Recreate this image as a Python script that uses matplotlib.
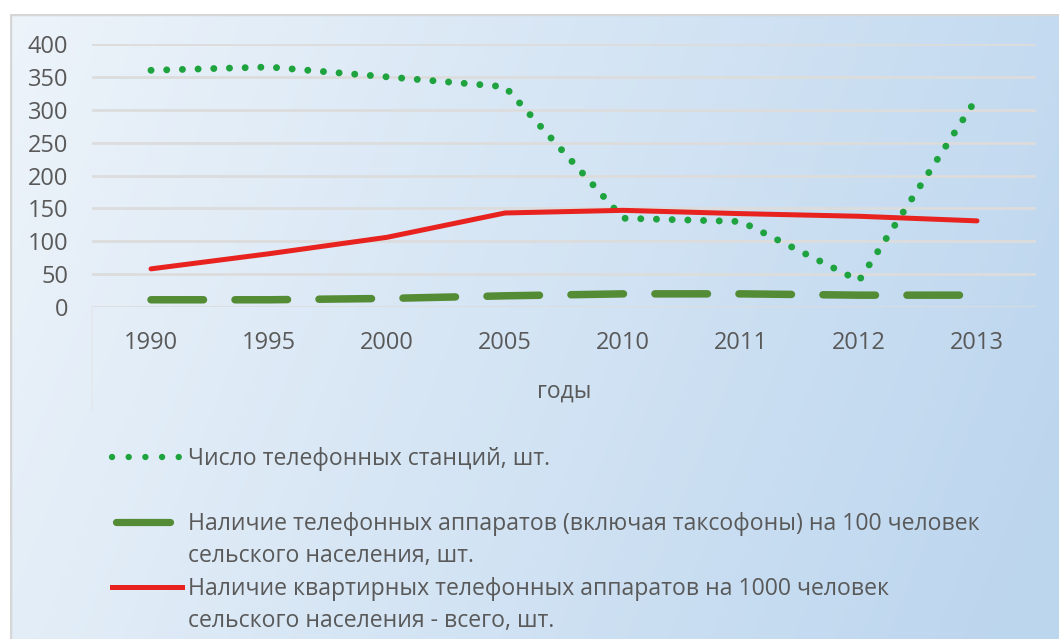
import numpy as np
import matplotlib as mpl
mpl.use('Agg')
import matplotlib.pyplot as plt
from matplotlib.lines import Line2D

# data
years = ['1990', '1995', '2000', '2005', '2010', '2011', '2012', '2013']
stations = [360, 365, 350, 335, 135, 130, 40, 318]
phones_100 = [11, 11, 13, 17, 20, 20, 18, 18]
flat_phones_1000 = [58, 81, 106, 143, 147, 142, 138, 131]

labels = ['Число телефонных станций, шт.',
          'Наличие телефонных аппаратов (включая таксофоны) на 100 человек\nсельского населения, шт.',
          'Наличие квартирных телефонных аппаратов на 1000 человек\nсельского населения - всего, шт.']

plt.rcParams['font.family'] = ['Open Sans', 'DejaVu Sans']

W, H = 1059, 639
fig = plt.figure(figsize=(W / 100, H / 100), dpi=100)

# gradient background of the chart box
bg = fig.add_axes([10 / W, 0, 1 - 10 / W, 1 - 14 / H])
gx, gy = np.meshgrid(np.linspace(0, 1, 300), np.linspace(0, 1, 200))
t = np.clip(0.85 * gx + 0.2 * gy, 0, 1)
c0 = np.array([0.93, 0.955, 0.98])
c1 = np.array([0.74, 0.84, 0.935])
img = c0[None, None, :] * (1 - t[..., None]) + c1[None, None, :] * t[..., None]
bg.imshow(img, aspect='auto', extent=[0, 1, 0, 1], origin='upper')
bg.set_axis_off()
bg.add_artist(Line2D([0, 0, 1], [0, 1, 1], transform=bg.transAxes, color='#d6d6d6', lw=2.5))

ax = fig.add_axes([92 / W, 1 - 307 / H, (1036 - 92) / W, (307 - 44) / H])
ax.set_facecolor('none')
x = np.arange(len(years))

ax.plot(x, stations, color='#1fa33f', lw=5, linestyle=(0, (0.01, 2.25)),
        dash_capstyle='round', zorder=3)
ax.plot(x, phones_100, color='#548b35', lw=5.4, linestyle=(0, (7.0, 4.2)),
        dash_capstyle='round', zorder=3)
ax.plot(x, flat_phones_1000, color='#e8221f', lw=3.6, solid_capstyle='round', zorder=4)

ax.set_xlim(-0.5, len(years) - 0.5)
ax.set_ylim(0, 400)
ax.set_yticks(range(0, 401, 50))
ax.set_xticks(x)
ax.set_xticklabels(years)
ax.grid(axis='y', color='#dcdcdc', lw=2)
ax.set_axisbelow(True)
for s in ax.spines.values():
    s.set_visible(False)
ax.tick_params(length=0, labelsize=17, labelcolor='#595959')
ax.tick_params(axis='y', pad=17)
ax.tick_params(axis='x', pad=17)
ax.set_xlabel('годы', fontsize=16.5, color='#595959', labelpad=18)

# faint left boundary of the category axis
fig.add_artist(Line2D([92 / W, 92 / W], [1 - 307 / H, 1 - 410 / H], transform=fig.transFigure,
                      color='#e4e8ee', lw=1.2))

# legend
tx = 188 / W
entries = [(457, 112, 181, dict(color='#1fa33f', lw=4.6, linestyle=(0, (0.01, 2.6)), dash_capstyle='round')),
           (522, 116, 170, dict(color='#548b35', lw=5.2, solid_capstyle='round')),
           (587, 112, 182, dict(color='#e8221f', lw=3.6))]
for (yy, x0, x1, st), lab in zip(entries, labels):
    yf = 1 - yy / H
    fig.add_artist(Line2D([x0 / W, x1 / W], [yf, yf], transform=fig.transFigure, **st))
    fig.text(tx, yf + 10 / H, lab, fontsize=16.6, color='#595959', va='top', ha='left',
             linespacing=1.45, transform=fig.transFigure)

fig.savefig('out.png', dpi=100)
